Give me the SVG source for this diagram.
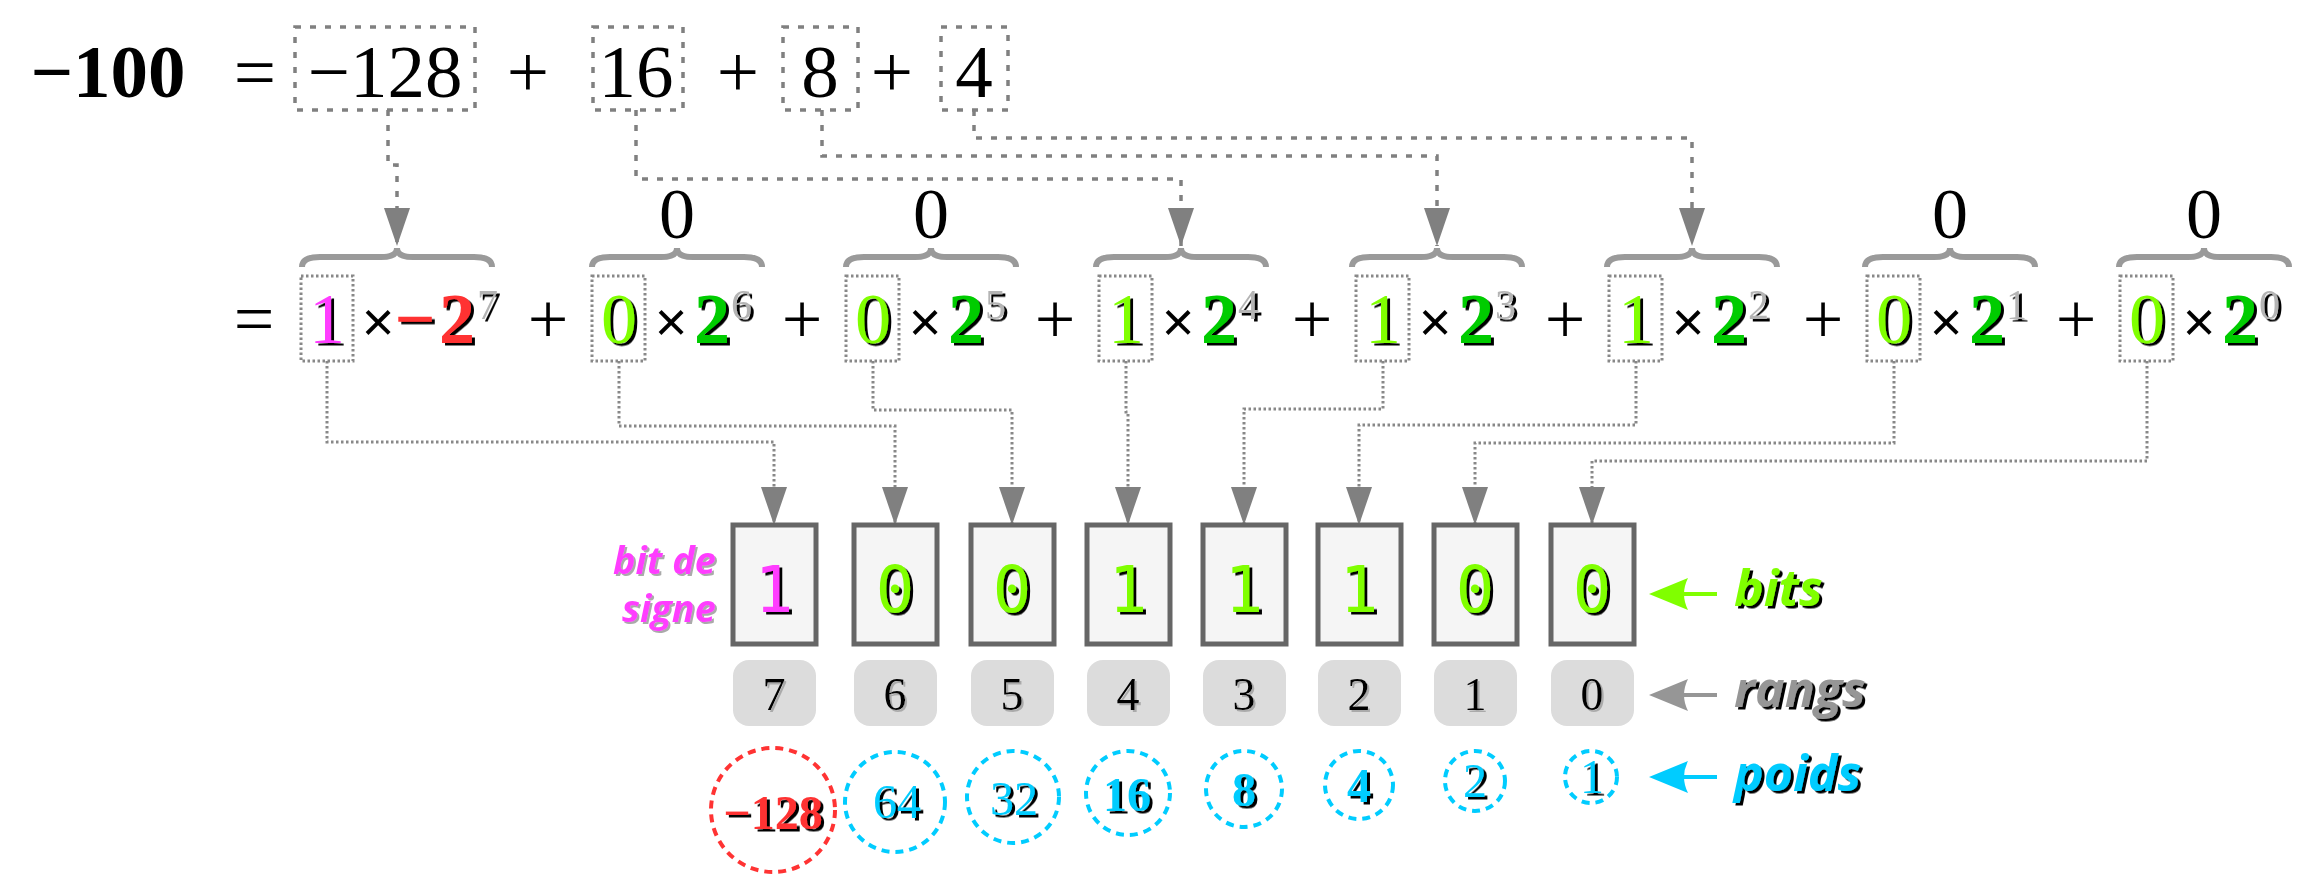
<svg xmlns="http://www.w3.org/2000/svg" width="2311" height="895" viewBox="0 0 2311 895">
<defs>
<style>
.serif{font-family:"Liberation Serif","DejaVu Serif",serif;font-size:72px;text-anchor:middle}
.top{font-size:75px}
.sup{font-family:"Liberation Serif","DejaVu Serif",serif;font-size:42px;fill:#b4b4b4}
.times{font-family:"Liberation Sans","DejaVu Sans",sans-serif;font-size:56px;text-anchor:middle}
.mono{font-family:"DejaVu Sans Mono","Liberation Mono",monospace;font-size:64px;text-anchor:middle}
.lbl{font-family:"Open Sans","Liberation Sans",sans-serif;font-style:italic;font-weight:700}
.box1{fill:none;stroke:#808080;stroke-width:3.5;stroke-dasharray:6 9}
.box2{fill:none;stroke:#888;stroke-width:3;stroke-dasharray:2.5 2.5}
.c1{fill:none;stroke:#808080;stroke-width:3.5;stroke-dasharray:6 9}
.c2{fill:none;stroke:#888;stroke-width:3;stroke-dasharray:2.5 2.5}
.brace{fill:none;stroke:#9a9a9a;stroke-width:6}
.cell{fill:#f5f5f5;stroke:#666;stroke-width:5}
.rang{fill:#dcdcdc}
.wc{fill:none;stroke:#00ccff;stroke-width:4;stroke-dasharray:8 6}
.wr{fill:none;stroke:#ff3333;stroke-width:4;stroke-dasharray:8 6}
.rk{font-family:"Liberation Serif","DejaVu Serif",serif;font-size:46px;text-anchor:middle}
.wt{font-family:"Liberation Serif","DejaVu Serif",serif;font-size:48px;text-anchor:middle;fill:#00ccff}
.mag{fill:#ff3cff}
.lg{fill:#80ff00}
.dg{fill:#00cc00}
.red{fill:#ff3333}
</style>
<filter id="sh" x="-30%" y="-30%" width="160%" height="160%"><feDropShadow dx="3" dy="2.5" stdDeviation="0" flood-color="#000"/></filter>
<filter id="sh2" x="-30%" y="-30%" width="160%" height="160%"><feDropShadow dx="2" dy="2" stdDeviation="0.5" flood-color="#aaa"/></filter>
<marker id="ah" viewBox="0 0 38 26" refX="38" refY="13" markerWidth="38" markerHeight="26" orient="auto" markerUnits="userSpaceOnUse"><path d="M0,0 L38,13 L0,26 Z" fill="#808080"/></marker>
</defs>
<rect width="2311" height="895" fill="#fff"/>

<g id="connectors">
<path class="c1" d="M388,110 V165 H397 V246" marker-end="url(#ah)"/>
<path class="c1" d="M636,110 V179 H1181 V246" marker-end="url(#ah)"/>
<path class="c1" d="M822,110 V156 H1437 V246" marker-end="url(#ah)"/>
<path class="c1" d="M974,110 V138 H1692 V246" marker-end="url(#ah)"/>
<path class="c2" d="M327,361 V442 H774 V525" marker-end="url(#ah)"/>
<path class="c2" d="M619,361 V426 H895 V525" marker-end="url(#ah)"/>
<path class="c2" d="M873,361 V410 H1012 V525" marker-end="url(#ah)"/>
<path class="c2" d="M1126,361 V412 H1128 V525" marker-end="url(#ah)"/>
<path class="c2" d="M1383,361 V409 H1244 V525" marker-end="url(#ah)"/>
<path class="c2" d="M1636,361 V425 H1359 V525" marker-end="url(#ah)"/>
<path class="c2" d="M1894,361 V443 H1475 V525" marker-end="url(#ah)"/>
<path class="c2" d="M2147,361 V461 H1592 V525" marker-end="url(#ah)"/>
</g>

<g id="top-equation">
<text class="serif top" x="108" y="97" font-weight="700">−100</text>
<text class="serif top" x="255" y="97">=</text>
<g id="top-128"><rect class="box1" x="295" y="27" width="180" height="83"/><text class="serif top" x="385" y="97">−128</text></g>
<text class="serif top" x="528" y="97">+</text>
<g id="top-16"><rect class="box1" x="593" y="27" width="90" height="83"/><text class="serif top" x="636" y="97">16</text></g>
<text class="serif top" x="738" y="97">+</text>
<g id="top-8"><rect class="box1" x="783" y="27" width="75" height="83"/><text class="serif top" x="820" y="97">8</text></g>
<text class="serif top" x="892" y="97">+</text>
<g id="top-4"><rect class="box1" x="941" y="27" width="67" height="83"/><text class="serif top" x="974" y="97">4</text></g>
</g>

<g id="braces">
<path class="brace" d="M302,267 Q302,257 320,257 L381,257 Q397,257 397,248 Q397,257 413,257 L474,257 Q492,257 492,267"/>
<path class="brace" d="M592,267 Q592,257 610,257 L661,257 Q677,257 677,248 Q677,257 693,257 L744,257 Q762,257 762,267"/>
<path class="brace" d="M846,267 Q846,257 864,257 L915,257 Q931,257 931,248 Q931,257 947,257 L998,257 Q1016,257 1016,267"/>
<path class="brace" d="M1096,267 Q1096,257 1114,257 L1165,257 Q1181,257 1181,248 Q1181,257 1197,257 L1248,257 Q1266,257 1266,267"/>
<path class="brace" d="M1352,267 Q1352,257 1370,257 L1421,257 Q1437,257 1437,248 Q1437,257 1453,257 L1504,257 Q1522,257 1522,267"/>
<path class="brace" d="M1607,267 Q1607,257 1625,257 L1676,257 Q1692,257 1692,248 Q1692,257 1708,257 L1759,257 Q1777,257 1777,267"/>
<path class="brace" d="M1865,267 Q1865,257 1883,257 L1934,257 Q1950,257 1950,248 Q1950,257 1966,257 L2017,257 Q2035,257 2035,267"/>
<path class="brace" d="M2119,267 Q2119,257 2137,257 L2188,257 Q2204,257 2204,248 Q2204,257 2220,257 L2271,257 Q2289,257 2289,267"/>
<text class="serif" x="677" y="238" font-size="56">0</text>
<text class="serif" x="931" y="238" font-size="56">0</text>
<text class="serif" x="1950" y="238" font-size="56">0</text>
<text class="serif" x="2204" y="238" font-size="56">0</text>
</g>

<g id="expansion">
<text class="serif" x="254" y="343">=</text>
<g id="term7"><rect class="box2" x="301" y="276" width="52" height="85"/><text class="serif mag" x="327" y="343" filter="url(#sh)">1</text><text class="times" x="378" y="341">×</text><text class="serif red" x="415" y="343" font-weight="700" font-size="66" filter="url(#sh)">−</text><text class="serif red" x="457" y="343" font-weight="700" filter="url(#sh)">2</text><text class="sup" x="477" y="319" filter="url(#sh)">7</text></g>
<text class="serif" x="548" y="343">+</text>
<g id="term6"><rect class="box2" x="592" y="276" width="53" height="85"/><text class="serif lg" x="619" y="343" filter="url(#sh)">0</text><text class="times" x="671" y="341">×</text><text class="serif dg" x="712" y="343" font-weight="700" filter="url(#sh)">2</text><text class="sup" x="731" y="319" filter="url(#sh)">6</text></g>
<text class="serif" x="802" y="343">+</text>
<g id="term5"><rect class="box2" x="846" y="276" width="53" height="85"/><text class="serif lg" x="873" y="343" filter="url(#sh)">0</text><text class="times" x="925" y="341">×</text><text class="serif dg" x="966" y="343" font-weight="700" filter="url(#sh)">2</text><text class="sup" x="985" y="319" filter="url(#sh)">5</text></g>
<text class="serif" x="1055" y="343">+</text>
<g id="term4"><rect class="box2" x="1099" y="276" width="53" height="85"/><text class="serif lg" x="1126" y="343" filter="url(#sh)">1</text><text class="times" x="1178" y="341">×</text><text class="serif dg" x="1219" y="343" font-weight="700" filter="url(#sh)">2</text><text class="sup" x="1238" y="319" filter="url(#sh)">4</text></g>
<text class="serif" x="1312" y="343">+</text>
<g id="term3"><rect class="box2" x="1356" y="276" width="53" height="85"/><text class="serif lg" x="1383" y="343" filter="url(#sh)">1</text><text class="times" x="1435" y="341">×</text><text class="serif dg" x="1476" y="343" font-weight="700" filter="url(#sh)">2</text><text class="sup" x="1495" y="319" filter="url(#sh)">3</text></g>
<text class="serif" x="1565" y="343">+</text>
<g id="term2"><rect class="box2" x="1609" y="276" width="53" height="85"/><text class="serif lg" x="1636" y="343" filter="url(#sh)">1</text><text class="times" x="1688" y="341">×</text><text class="serif dg" x="1729" y="343" font-weight="700" filter="url(#sh)">2</text><text class="sup" x="1748" y="319" filter="url(#sh)">2</text></g>
<text class="serif" x="1823" y="343">+</text>
<g id="term1"><rect class="box2" x="1867" y="276" width="53" height="85"/><text class="serif lg" x="1894" y="343" filter="url(#sh)">0</text><text class="times" x="1946" y="341">×</text><text class="serif dg" x="1987" y="343" font-weight="700" filter="url(#sh)">2</text><text class="sup" x="2006" y="319" filter="url(#sh)">1</text></g>
<text class="serif" x="2076" y="343">+</text>
<g id="term0"><rect class="box2" x="2120" y="276" width="53" height="85"/><text class="serif lg" x="2147" y="343" filter="url(#sh)">0</text><text class="times" x="2199" y="341">×</text><text class="serif dg" x="2240" y="343" font-weight="700" filter="url(#sh)">2</text><text class="sup" x="2259" y="319" filter="url(#sh)">0</text></g>
</g>

<g id="bits">
<g id="bit7"><rect class="cell" x="733" y="525" width="83" height="119"/><text class="mono mag" x="774" y="612" filter="url(#sh)">1</text></g>
<g id="bit6"><rect class="cell" x="854" y="525" width="83" height="119"/><text class="mono lg" x="895" y="612" filter="url(#sh)">0</text></g>
<g id="bit5"><rect class="cell" x="971" y="525" width="83" height="119"/><text class="mono lg" x="1012" y="612" filter="url(#sh)">0</text></g>
<g id="bit4"><rect class="cell" x="1087" y="525" width="83" height="119"/><text class="mono lg" x="1128" y="612" filter="url(#sh)">1</text></g>
<g id="bit3"><rect class="cell" x="1203" y="525" width="83" height="119"/><text class="mono lg" x="1244" y="612" filter="url(#sh)">1</text></g>
<g id="bit2"><rect class="cell" x="1318" y="525" width="83" height="119"/><text class="mono lg" x="1359" y="612" filter="url(#sh)">1</text></g>
<g id="bit1"><rect class="cell" x="1434" y="525" width="83" height="119"/><text class="mono lg" x="1475" y="612" filter="url(#sh)">0</text></g>
<g id="bit0"><rect class="cell" x="1551" y="525" width="83" height="119"/><text class="mono lg" x="1592" y="612" filter="url(#sh)">0</text></g>
</g>

<g id="ranks">
<g id="rank7"><rect class="rang" x="733" y="660" width="83" height="66" rx="16"/><text class="rk" x="774" y="710" filter="url(#sh2)">7</text></g>
<g id="rank6"><rect class="rang" x="854" y="660" width="83" height="66" rx="16"/><text class="rk" x="895" y="710" filter="url(#sh2)">6</text></g>
<g id="rank5"><rect class="rang" x="971" y="660" width="83" height="66" rx="16"/><text class="rk" x="1012" y="710" filter="url(#sh2)">5</text></g>
<g id="rank4"><rect class="rang" x="1087" y="660" width="83" height="66" rx="16"/><text class="rk" x="1128" y="710" filter="url(#sh2)">4</text></g>
<g id="rank3"><rect class="rang" x="1203" y="660" width="83" height="66" rx="16"/><text class="rk" x="1244" y="710" filter="url(#sh2)">3</text></g>
<g id="rank2"><rect class="rang" x="1318" y="660" width="83" height="66" rx="16"/><text class="rk" x="1359" y="710" filter="url(#sh2)">2</text></g>
<g id="rank1"><rect class="rang" x="1434" y="660" width="83" height="66" rx="16"/><text class="rk" x="1475" y="710" filter="url(#sh2)">1</text></g>
<g id="rank0"><rect class="rang" x="1551" y="660" width="83" height="66" rx="16"/><text class="rk" x="1592" y="710" filter="url(#sh2)">0</text></g>
</g>

<g id="weights">
<g id="w7"><circle class="wr" cx="773" cy="810" r="62"/><text class="wt red" x="773" y="829" font-weight="700" font-size="52" filter="url(#sh)">−128</text></g>
<g id="w6"><circle class="wc" cx="895" cy="802" r="50"/><text class="wt" x="897" y="818" filter="url(#sh)">64</text></g>
<g id="w5"><circle class="wc" cx="1013" cy="797" r="46"/><text class="wt" x="1014" y="815" filter="url(#sh)">32</text></g>
<g id="w4"><circle class="wc" cx="1128" cy="793" r="42"/><text class="wt" x="1127" y="811" font-weight="700" filter="url(#sh)">16</text></g>
<g id="w3"><circle class="wc" cx="1244" cy="789" r="38"/><text class="wt" x="1244" y="806" font-weight="700" font-size="44" filter="url(#sh)">8</text></g>
<g id="w2"><circle class="wc" cx="1359" cy="785" r="34"/><text class="wt" x="1359" y="802" font-weight="700" font-size="44" filter="url(#sh)">4</text></g>
<g id="w1"><circle class="wc" cx="1475" cy="781" r="30"/><text class="wt" x="1475" y="797" font-size="44" filter="url(#sh)">2</text></g>
<g id="w0"><circle class="wc" cx="1591" cy="777" r="26"/><text class="wt" x="1592" y="793" font-size="44" filter="url(#sh)">1</text></g>
</g>

<g id="labels">
<g id="lbl-sign"><text class="lbl mag" font-size="38" text-anchor="end" filter="url(#sh2)"><tspan x="716" y="574">bit de</tspan><tspan x="716" y="622">signe</tspan></text></g>
<g id="lbl-bits"><path d="M1649,594 L1688,578 Q1680,594 1688,610 Z" fill="#80ff00"/><line x1="1684" y1="594" x2="1717" y2="594" stroke="#80ff00" stroke-width="4"/><text class="lbl lg" x="1734" y="606" font-size="50" filter="url(#sh)">bits</text></g>
<g id="lbl-rangs"><path d="M1649,695 L1688,679 Q1680,695 1688,711 Z" fill="#969696"/><line x1="1684" y1="695" x2="1717" y2="695" stroke="#969696" stroke-width="4"/><text class="lbl" x="1734" y="707" font-size="50" fill="#969696" filter="url(#sh)">rangs</text></g>
<g id="lbl-poids"><path d="M1649,777 L1688,761 Q1680,777 1688,793 Z" fill="#00ccff"/><line x1="1684" y1="777" x2="1717" y2="777" stroke="#00ccff" stroke-width="4"/><text class="lbl" x="1734" y="791" font-size="50" fill="#00ccff" filter="url(#sh)">poids</text></g>
</g>
</svg>
